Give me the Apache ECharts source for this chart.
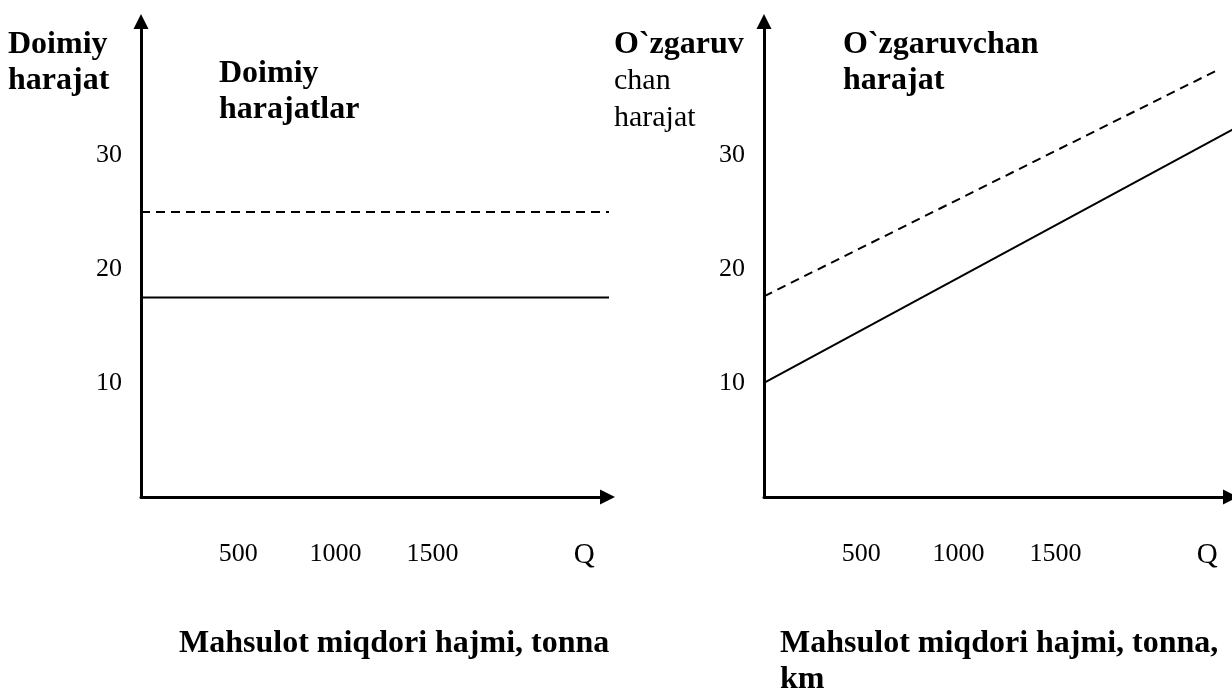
<!DOCTYPE html>
<html>
<head>
<meta charset="utf-8">
<title>Doimiy va o`zgaruvchan harajatlar</title>
<script src="https://cdn.jsdelivr.net/npm/echarts@6/dist/echarts.min.js"></script>
<style>
  html, body { margin: 0; padding: 0; background: #fff; }
  #chart { width: 1232px; height: 689px; }
</style>
</head>
<body>
<div id="chart"></div>
<script>
// tick labels
const qTicks = [500, 1000, 1500];
const qLabelAt = 2280; // where the "Q" label sits on the x scale
const costTicks = [10, 20, 30];

// left chart: doimiy harajatlar
const fixedSolid = [[0, 17.5], [2440, 17.5]];
const fixedDashed = [[0, 25], [2440, 25]];

// right chart: o`zgaruvchan harajat
const varSolid = [[0, 10], [2440, 32.5]];
const varDashed = [[0, 17.6], [2340, 37.5]];

const FONT = 'Liberation Serif';
const X_MAX = 2400;
const Y_MAX = 41.7;

const chart = echarts.init(document.getElementById('chart'));

// one x axis per grid, same look
function makeXAxis(idx) {
  return {
    type: 'value',
    gridIndex: idx,
    min: 0,
    max: X_MAX,
    axisLine: {
      show: true,
      onZero: false,
      symbol: ['none', 'triangle'],
      symbolSize: [15, 15],
      lineStyle: { color: '#000', width: 3 }
    },
    axisTick: { show: false },
    splitLine: { show: false },
    axisLabel: {
      customValues: qTicks.concat([qLabelAt]),
      margin: 44,
      color: '#000',
      fontFamily: FONT,
      fontSize: 26,
      formatter: (v) => (v === qLabelAt ? '{q|Q}' : String(v)),
      rich: {
        q: { fontFamily: FONT, fontSize: 29, color: '#000' }
      }
    }
  };
}

function makeYAxis(idx) {
  return {
    type: 'value',
    gridIndex: idx,
    min: 0,
    max: Y_MAX,
    axisLine: {
      show: true,
      onZero: false,
      symbol: ['none', 'triangle'],
      symbolSize: [15, 15],
      lineStyle: { color: '#000', width: 3 }
    },
    axisTick: { show: false },
    splitLine: { show: false },
    axisLabel: {
      customValues: costTicks,
      margin: 19,
      color: '#000',
      fontFamily: FONT,
      fontSize: 26
    }
  };
}

function lineSeries(idx, data, dashed) {
  return {
    type: 'line',
    xAxisIndex: idx,
    yAxisIndex: idx,
    data: data,
    symbol: 'none',
    clip: false,
    silent: true,
    lineStyle: {
      color: '#000',
      width: 2,
      type: dashed ? [9, 6] : 'solid'
    }
  };
}

const boldText = { fontFamily: FONT, fontWeight: 'bold', fontSize: 32, lineHeight: 36, color: '#000' };

const option = {
  backgroundColor: '#fff',
  animation: false,
  grid: [
    { left: 141, top: 21.5, width: 466.5, height: 475.5 },
    { left: 764, top: 21.5, width: 466.5, height: 475.5 }
  ],
  xAxis: [makeXAxis(0), makeXAxis(1)],
  yAxis: [makeYAxis(0), makeYAxis(1)],
  title: [
    { text: 'Doimiy\nharajat', left: 8, top: 27, padding: 0, textStyle: boldText },
    { text: 'Doimiy\nharajatlar', left: 219, top: 56, padding: 0, textStyle: boldText },
    { text: 'Mahsulot miqdori hajmi, tonna', left: 179, top: 626, padding: 0, textStyle: boldText },
    {
      text: '{b|O`zgaruv}\n{r|chan}\n{r|harajat}',
      left: 614, top: 26, padding: 0,
      textStyle: {
        lineHeight: 37,
        rich: {
          b: { fontFamily: FONT, fontWeight: 'bold', fontSize: 32, lineHeight: 37, color: '#000' },
          r: { fontFamily: FONT, fontWeight: 'normal', fontSize: 30, lineHeight: 37, color: '#000' }
        }
      }
    },
    { text: 'O`zgaruvchan\nharajat', left: 843, top: 27, padding: 0, textStyle: boldText },
    { text: 'Mahsulot miqdori hajmi, tonna,\nkm', left: 780, top: 626, padding: 0, textStyle: boldText }
  ],
  series: [
    lineSeries(0, fixedDashed, true),
    lineSeries(0, fixedSolid, false),
    lineSeries(1, varDashed, true),
    lineSeries(1, varSolid, false)
  ]
};

chart.setOption(option);
</script>
</body>
</html>
